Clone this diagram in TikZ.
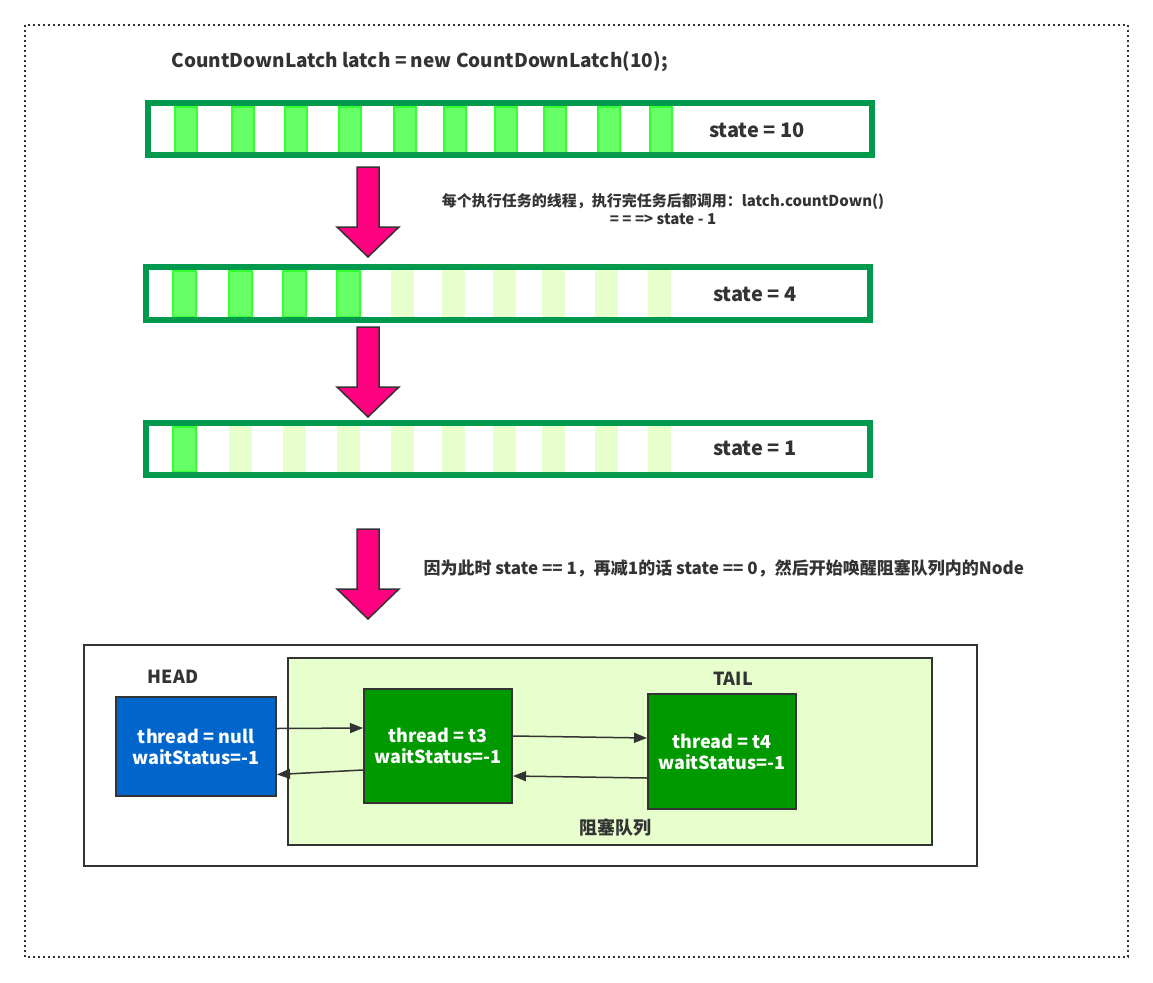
\documentclass[tikz,border=0pt]{standalone}
\usepackage{fontspec}
\setmainfont{Noto Sans CJK SC}
\usetikzlibrary{arrows.meta}

\definecolor{barline}{RGB}{0,153,77}
\definecolor{cellon}{RGB}{102,255,102}
\definecolor{celledge}{RGB}{51,255,51}
\definecolor{celloff}{RGB}{230,255,204}
\definecolor{pinkarrow}{RGB}{255,0,128}
\definecolor{ink}{RGB}{51,51,51}
\definecolor{headblue}{RGB}{0,102,204}
\definecolor{nodegreen}{RGB}{0,153,0}

\tikzset{
  bar/.style={draw=barline, line width=6pt, minimum width=724pt, minimum height=52pt, inner sep=0pt},
  lbl/.style={text=ink, font=\bfseries\fontsize{18}{21}\selectfont},
  statelbl/.style={text=ink, font=\bfseries\fontsize{20}{24}\selectfont},
  note/.style={text=ink, font=\bfseries\fontsize{15}{18}\selectfont, align=center},
  qnode/.style={draw=ink, line width=2pt, text=white, align=center, inner sep=0pt,
    font=\bfseries\fontsize{18}{21}\selectfont},
  link/.style={draw=ink, line width=1.5pt, -{Triangle[length=13pt,width=10pt]}},
  bigarrow/.pic={
    \draw[fill=pinkarrow, draw=ink, line width=1.5pt]
      (-11,0) -- (11,0) -- (11,60) -- (31,60) -- (0,90) -- (-31,60) -- (-11,60) -- cycle;
  }
}

\begin{document}
\begin{tikzpicture}[x=1pt, y=-1pt]
    \useasboundingbox (0,0) rectangle (1153,982);

    % outer frame
    \draw[ink, line width=1.5pt, dash pattern=on 2pt off 3pt] (25,25) rectangle (1128,957);

    \node[lbl, font=\bfseries\fontsize{19}{22}\selectfont, anchor=west] (title) at (168,62) {CountDownLatch latch = new CountDownLatch(10);};

    % state = 10
    \foreach \x in {175,232,285,339,394,444,495,544,598,650}
        \draw[fill=cellon, draw=celledge, line width=1.5pt] (\x,107) rectangle ++(22,46);
    \node[bar] (bar1) at (510,129) {};
    \node[statelbl] (s10) at (757,130) {state = 10};

    \pic at (368,167) {bigarrow};
    \node[note] (hint) at (663,209) {每个执行任务的线程，执行完任务后都调用：latch.countDown()\\= = => state - 1};

    % state = 4
    \foreach \x in {173,229,283,337}
        \draw[fill=cellon, draw=celledge, line width=1.5pt] (\x,271) rectangle ++(23,46);
    \foreach \x in {391,442,493,542,595,648}
        \fill[celloff] (\x,270) rectangle ++(23,48);
    \node[bar, minimum height=53pt] (bar2) at (508,293.5) {};
    \node[statelbl] (s4) at (755,294) {state = 4};

    \pic at (368,327) {bigarrow};

    % state = 1
    \draw[fill=cellon, draw=celledge, line width=1.5pt] (173,427) rectangle ++(23,45);
    \foreach \x in {229,283,337,391,442,493,542,595,648}
        \fill[celloff] (\x,426) rectangle ++(23,47);
    \node[bar] (bar3) at (507.5,449) {};
    \node[statelbl] (s1) at (755,448) {state = 1};

    \pic at (368,529) {bigarrow};
    \node[note, font=\bfseries\fontsize{17}{20}\selectfont, anchor=west] (wake) at (420,568)
        {因为此时 state == 1，再减1的话 state == 0，然后开始唤醒阻塞队列内的Node};

    % 阻塞队列
    \node[draw=ink, line width=2pt, fill=white, minimum width=893pt, minimum height=221pt] (qbox) at (530.5,755.5) {};
    \node[draw=ink, line width=2pt, fill=celloff, minimum width=644pt, minimum height=187pt] (queue) at (610,751.5) {};
    \node[lbl] (headlbl) at (173,677) {HEAD};
    \node[lbl] (taillbl) at (733,679) {TAIL};
    \node[lbl] (qlbl) at (615,828) {阻塞队列};

    \node[qnode, fill=headblue, minimum width=160pt, minimum height=99pt] (head) at (196,746.5) {thread = null\\waitStatus=-1};
    \node[qnode, fill=nodegreen, minimum width=148pt, minimum height=114pt] (t3) at (438,746) {thread = t3\\waitStatus=-1};
    \node[qnode, fill=nodegreen, minimum width=148pt, minimum height=115pt] (t4) at (722,751.5) {thread = t4\\waitStatus=-1};

    \draw[link] ([yshift=18pt]head.east) -- ([yshift=18pt]t3.west);
    \draw[link] ([yshift=-24pt]t3.west) -- ([yshift=-28pt]head.east);
    \draw[link] ([yshift=10pt]t3.east) -- ([yshift=13.5pt]t4.west);
    \draw[link] ([yshift=-26.5pt]t4.west) -- ([yshift=-30pt]t3.east);
\end{tikzpicture}
\end{document}
